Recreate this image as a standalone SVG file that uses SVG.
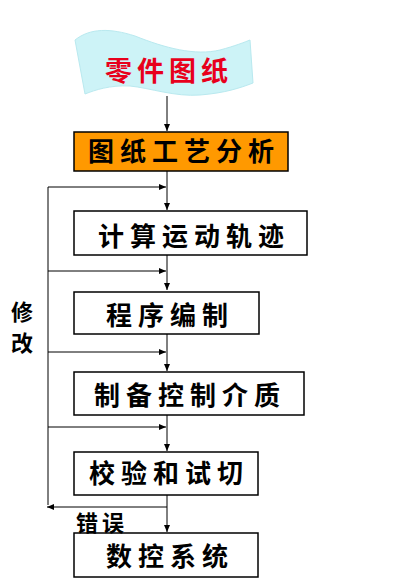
<svg xmlns="http://www.w3.org/2000/svg" width="410" height="578" viewBox="0 0 410 578">
<defs>
<marker id="ah" markerWidth="8" markerHeight="8" refX="7" refY="4" orient="auto" markerUnits="userSpaceOnUse">
<path d="M0,1 L7,4 L0,7 Z" fill="#000"/>
</marker>
<style>
.box{fill:#fff;stroke:#000;stroke-width:1.5}
.t{font-family:"Noto Sans CJK SC","Noto Sans CJK JP",sans-serif;font-size:26px;font-weight:bold;fill:#000;text-anchor:middle;letter-spacing:6px}
.lbl{font-family:"Noto Sans CJK SC","Noto Sans CJK JP",sans-serif;font-weight:bold;fill:#000}
.ln{stroke:#000;stroke-width:1;fill:none}
</style>
</defs>
<rect width="410" height="578" fill="#fff"/>
<g id="banner">
<path d="M75,40 C90,28 110,28 135,36 C165,48 195,56 220,50 C235,46 245,42 250,40 L253,83 C240,88 225,93 200,95 C175,97 150,88 130,86 C110,85 95,90 85,94 Z" fill="#cdf3f7" stroke="#b9e9ef" stroke-width="1"/>
<text x="169" y="81" class="t" style="fill:#e8001c;font-size:27px;letter-spacing:5px">零件图纸</text>
</g>
<g id="analysis">
<rect x="74" y="132" width="214" height="39" fill="#ff9900" stroke="#000" stroke-width="1.5"/>
<text x="184" y="161" class="t">图纸工艺分析</text>
</g>
<g id="calc">
<rect x="74" y="211" width="233" height="44" class="box"/>
<text x="194" y="246" class="t">计算运动轨迹</text>
</g>
<g id="program">
<rect x="74" y="292" width="185" height="42" class="box"/>
<text x="170" y="325" class="t">程序编制</text>
</g>
<g id="media">
<rect x="74" y="372" width="230" height="43" class="box"/>
<text x="190" y="405" class="t">制备控制介质</text>
</g>
<g id="verify">
<rect x="74" y="452" width="184" height="43" class="box"/>
<text x="169" y="483" class="t">校验和试切</text>
</g>
<g id="cnc">
<rect x="74" y="533" width="184" height="44" class="box"/>
<text x="170" y="566" class="t">数控系统</text>
</g>
<g id="connectors">
<line x1="167" y1="96" x2="167" y2="131" class="ln" marker-end="url(#ah)"/>
<line x1="167" y1="171" x2="167" y2="210" class="ln" marker-end="url(#ah)"/>
<line x1="167" y1="255" x2="167" y2="290" class="ln" marker-end="url(#ah)"/>
<line x1="167" y1="334" x2="167" y2="371" class="ln" marker-end="url(#ah)"/>
<line x1="167" y1="415" x2="167" y2="451" class="ln" marker-end="url(#ah)"/>
<line x1="167" y1="495" x2="167" y2="532" class="ln" marker-end="url(#ah)"/>
<line x1="167" y1="507" x2="47" y2="507" class="ln" marker-end="url(#ah)"/>
<line x1="48" y1="505" x2="48" y2="187" class="ln"/>
<line x1="48" y1="187" x2="166" y2="187" class="ln" marker-end="url(#ah)"/>
<line x1="48" y1="271" x2="166" y2="271" class="ln" marker-end="url(#ah)"/>
<line x1="48" y1="352" x2="166" y2="352" class="ln" marker-end="url(#ah)"/>
<line x1="48" y1="427" x2="166" y2="427" class="ln" marker-end="url(#ah)"/>
</g>
<g id="labels">
<text x="22" y="320" class="lbl" style="font-size:22px;text-anchor:middle">修</text>
<text x="22" y="351" class="lbl" style="font-size:22px;text-anchor:middle">改</text>
<text x="76" y="531" class="lbl" style="font-size:22px;letter-spacing:4px">错误</text>
</g>
</svg>
